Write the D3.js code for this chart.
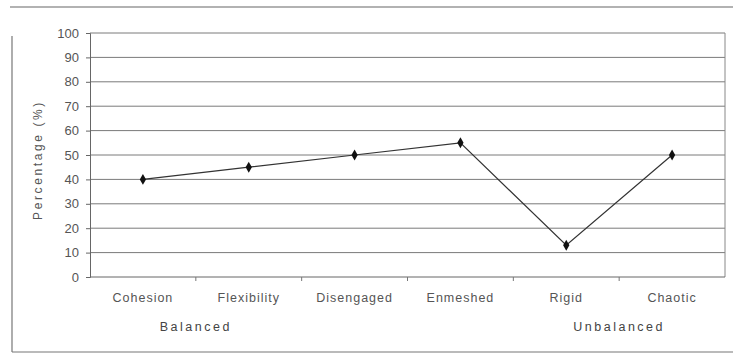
<!DOCTYPE html>
<html>
<head>
<meta charset="utf-8">
<script src="https://cdn.jsdelivr.net/npm/d3@7"></script>
<style>
  body { margin: 0; background: #fff; }
  svg { display: block; font-family: "Liberation Sans", Arial, sans-serif; }
</style>
</head>
<body>
<svg id="chart" width="733" height="356"></svg>
<script>
// Family functioning dimensions and the percentage for each
const categories = ["Cohesion", "Flexibility", "Disengaged", "Enmeshed", "Rigid", "Chaotic"];
const values = [40, 45, 50, 55, 13, 50];
const yTicks = [0, 10, 20, 30, 40, 50, 60, 70, 80, 90, 100];
const groups = [
  { label: "Balanced", from: "Cohesion", to: "Flexibility" },
  { label: "Unbalanced", from: "Rigid", to: "Chaotic" }
];

const svg = d3.select("#chart");
const margin = { left: 90, right: 8, top: 33, bottom: 79 };
const W = 733, H = 356;
const FONT = "Liberation Sans, Arial, sans-serif";

const x = d3.scaleBand().domain(categories).range([margin.left, W - margin.right]).padding(0);
const y = d3.scaleLinear().domain([0, 100]).range([H - margin.bottom, margin.top]);

// outer frame lines
svg.append("line").attr("x1", 10).attr("x2", 733).attr("y1", 7).attr("y2", 7)
  .attr("stroke", "#666").attr("stroke-width", 1.2);
svg.append("line").attr("x1", 12).attr("x2", 12).attr("y1", 36).attr("y2", 352)
  .attr("stroke", "#777").attr("stroke-width", 1.2);
svg.append("line").attr("x1", 12).attr("x2", 733).attr("y1", 352).attr("y2", 352)
  .attr("stroke", "#777").attr("stroke-width", 1.2);

// horizontal gridlines
svg.append("g").selectAll("line").data(yTicks.filter(d => d > 0)).join("line")
  .attr("x1", margin.left).attr("x2", W - margin.right)
  .attr("y1", d => y(d)).attr("y2", d => y(d))
  .attr("stroke", "#7a7a7a").attr("stroke-width", 1);

// right edge of plot area
svg.append("line")
  .attr("x1", W - margin.right).attr("x2", W - margin.right)
  .attr("y1", y(100)).attr("y2", y(0))
  .attr("stroke", "#888").attr("stroke-width", 1);

// y axis
const yAxis = d3.axisLeft(y).tickValues(yTicks).tickSize(4).tickPadding(7);
const gy = svg.append("g").attr("transform", `translate(${margin.left},0)`).call(yAxis);
gy.select(".domain").attr("stroke", "#666");
gy.selectAll(".tick line").attr("stroke", "#666");
gy.selectAll(".tick text").attr("fill", "#555").attr("font-size", 13).attr("font-family", FONT);

// x axis
const xAxis = d3.axisBottom(x).tickSize(0).tickPadding(16);
const gx = svg.append("g").attr("transform", `translate(0,${y(0)})`).call(xAxis);
gx.select(".domain").attr("stroke", "#666").attr("d", `M${margin.left},0H${W - margin.right}`);
gx.selectAll(".tick text").attr("fill", "#555").attr("font-size", 12.5)
  .attr("font-family", FONT).attr("letter-spacing", 1);

// small tick marks between categories along the baseline
svg.append("g").selectAll("line").data(categories.slice(1)).join("line")
  .attr("x1", d => x(d)).attr("x2", d => x(d))
  .attr("y1", y(0)).attr("y2", y(0) + 4)
  .attr("stroke", "#777");

// group labels
svg.append("g").selectAll("text").data(groups).join("text")
  .attr("x", d => (x(d.from) + x(d.to)) / 2 + x.bandwidth() / 2)
  .attr("y", 331)
  .attr("text-anchor", "middle")
  .attr("fill", "#444").attr("font-size", 12.5).attr("letter-spacing", 2.5)
  .text(d => d.label);

// y axis title
svg.append("text")
  .attr("transform", `translate(42,${(y(0) + y(100)) / 2 + 5}) rotate(-90)`)
  .attr("text-anchor", "middle")
  .attr("fill", "#555").attr("font-size", 12).attr("letter-spacing", 2.6)
  .text("Percentage (%)");

// series line
const pts = categories.map((c, i) => [x(c) + x.bandwidth() / 2, y(values[i])]);
svg.append("path")
  .attr("d", d3.line()(pts))
  .attr("fill", "none").attr("stroke", "#333").attr("stroke-width", 1.2);

// diamond markers
svg.append("g").selectAll("path").data(pts).join("path")
  .attr("transform", d => `translate(${d[0]},${d[1]})`)
  .attr("d", d3.symbol().type(d3.symbolDiamond).size(34))
  .attr("fill", "#111");
</script>
</body>
</html>
